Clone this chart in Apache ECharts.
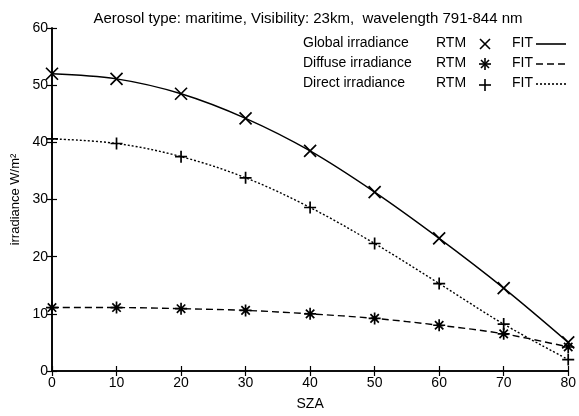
<!DOCTYPE html>
<html><head><meta charset="utf-8">
<script src="https://cdn.jsdelivr.net/npm/echarts@6/dist/echarts.min.js"></script>
<style>html,body{margin:0;padding:0;background:#fff}#c{width:579px;height:416px}</style>
</head><body><div id="c"></div>
<script>
const sza = [0, 10, 20, 30, 40, 50, 60, 70, 80];
const globalIrr = [52.0, 51.1, 48.5, 44.2, 38.5, 31.3, 23.2, 14.5, 5.0];
const diffuseIrr = [11.1, 11.1, 10.9, 10.6, 10.0, 9.2, 8.0, 6.5, 4.2];
const directIrr = [40.6, 39.8, 37.5, 33.8, 28.6, 22.3, 15.3, 8.2, 2.0];
const xTicks = [0, 10, 20, 30, 40, 50, 60, 70, 80];
const yTicks = [0, 10, 20, 30, 40, 50, 60];
const legendNames = ['Global irradiance', 'Diffuse irradiance', 'Direct irradiance'];

const FONT = 'Liberation Sans, Arial, sans-serif';
const SYM_X = 'path://M0,0L10,10M10,0L0,10';
const SYM_STAR = 'path://M0,5L10,5M5,0L5,10M1.5,1.5L8.5,8.5M8.5,1.5L1.5,8.5';
const SYM_PLUS = 'path://M0,5L10,5M5,0L5,10';

function pairs(v){ return sza.map((x,i)=>[x, v[i]]); }
function mk(name, vals, sym, type){
  return {
    name, type:'line', data: pairs(vals), smooth: 0.35,
    symbol: sym, symbolSize: 12, showAllSymbol: true,
    lineStyle:{color:'#000', width:1.4, type},
    itemStyle:{color:'rgba(0,0,0,0)', borderColor:'#000', borderWidth:1.7},
    emphasis:{disabled:true}, animation:false, z:3
  };
}
const chart = echarts.init(document.getElementById('c'), null, {renderer:'canvas'});
const axisCommon = {
  axisLine:{show:true, lineStyle:{color:'#000', width:1.6}},
  axisTick:{show:true, inside:true, length:5, lineStyle:{color:'#000', width:1.2}},
  splitLine:{show:false},
};
const rows=[44,64,84];
const graphics = [];
function seg(x1,y1,x2,y2,dash){
  const s={stroke:'#000', lineWidth:1.6};
  if(dash) s.lineDash=dash;
  graphics.push({type:'line', shape:{x1,y1,x2,y2}, style:s, z:10});
}
rows.forEach((y,i)=>{
  graphics.push({type:'text', x:303, y:y-8, style:{text:legendNames[i], font:'14px '+FONT, fill:'#000'}, z:10});
  graphics.push({type:'text', x:436, y:y-8, style:{text:'RTM', font:'14px '+FONT, fill:'#000'}, z:10});
  graphics.push({type:'text', x:512, y:y-8, style:{text:'FIT', font:'14px '+FONT, fill:'#000'}, z:10});
});
// legend symbol samples
seg(480,39,490,49); seg(490,39,480,49);
seg(479,64,491,64); seg(485,58,485,70); seg(481,60,489,68); seg(489,60,481,68);
seg(479,85,491,85); seg(485,79,485,91);
// legend line samples
seg(536,44,566,44); seg(536,64,566,64,[7,4]); seg(536,84,566,84,[2,2]);

chart.setOption({
  animation:false,
  title:{text:'Aerosol type: maritime, Visibility: 23km,  wavelength 791-844 nm', left:303, textAlign:'center', top:6,
    textStyle:{fontFamily:FONT, fontSize:15, fontWeight:'normal', color:'#000'}},
  grid:{left:52, right:7, top:28, bottom:40},
  xAxis:[
    Object.assign({type:'value', min:0, max:80, interval:10, name:'SZA', nameLocation:'middle', nameGap:26,
      nameTextStyle:{fontFamily:FONT, fontSize:14, color:'#000'},
      axisLabel:{fontFamily:FONT, fontSize:14, color:'#000', margin:5}}, axisCommon),
    Object.assign({type:'value', min:0, max:80, interval:10, position:'top', axisLabel:{show:false}}, axisCommon)
  ],
  yAxis:[
    Object.assign({type:'value', min:0, max:60, interval:10, name:'irradiance W/m²', nameLocation:'middle', nameGap:27,
      nameTextStyle:{fontFamily:FONT, fontSize:13, color:'#000'},
      axisLabel:{fontFamily:FONT, fontSize:14, color:'#000', margin:4}}, axisCommon),
    Object.assign({type:'value', min:0, max:60, interval:10, position:'right', axisLabel:{show:false}}, axisCommon)
  ],
  series:[
    mk(legendNames[0], globalIrr, SYM_X, 'solid'),
    mk(legendNames[1], diffuseIrr, SYM_STAR, [7,4]),
    mk(legendNames[2], directIrr, SYM_PLUS, [2,2]),
  ],
  graphic: graphics
});
</script></body></html>
